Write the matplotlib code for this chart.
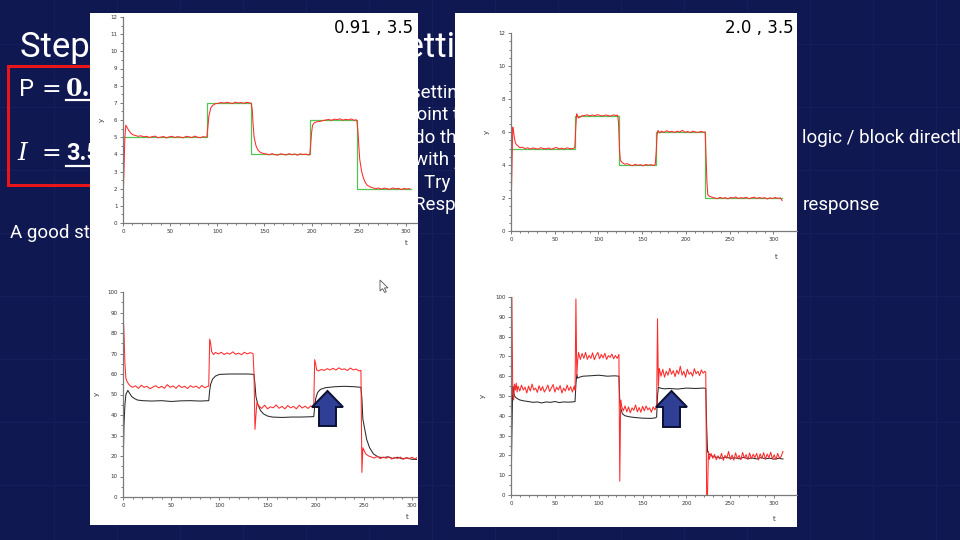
import matplotlib

matplotlib.use("Agg")

import matplotlib.pyplot as plt
import numpy as np
from matplotlib.patches import Polygon, Rectangle

# ---- data -------------------------------------------------------------------
# top left: P=0.91, I=3.5 (process value vs set point)
tl_sp_t = [0, 89, 136, 198, 248, 305]
tl_sp_y = [5, 7, 4, 6, 2, 2]
tl_pv = [
    (0, 1.2), (1, 3.0), (2, 5.0), (3, 5.7), (4, 5.6), (6, 5.4), (8, 5.25), (10, 5.15), (13, 5.1),
    (16, 5.05), (19, 5.08), (22, 5.02), (25, 5.05), (28, 4.98), (31, 5.03), (34, 5.06), (37, 4.97),
    (40, 5.0), (43, 5.04), (46, 4.95), (49, 5.02), (52, 5.05), (55, 4.98), (58, 5.03), (61, 5.0),
    (64, 4.96), (67, 5.05), (70, 5.02), (73, 4.98), (76, 5.06), (79, 5.0), (82, 4.97), (85, 5.03),
    (88, 5.0), (89, 5.05), (90, 5.6), (91, 6.2), (93, 6.7), (95, 6.85), (98, 6.95), (101, 6.97),
    (104, 7.02), (107, 6.98), (110, 7.03), (113, 7.0), (116, 6.96), (119, 7.04), (122, 6.99),
    (125, 7.02), (128, 6.97), (131, 7.03), (134, 7.0), (136, 6.98), (137, 6.6), (138, 5.7),
    (139, 5.0), (141, 4.5), (143, 4.25), (146, 4.1), (149, 4.05), (152, 4.02), (155, 3.97),
    (158, 4.04), (161, 3.98), (164, 3.95), (167, 4.03), (170, 4.0), (173, 3.96), (176, 4.04),
    (179, 3.98), (182, 4.02), (185, 3.95), (188, 4.03), (191, 3.99), (194, 4.01), (197, 3.96),
    (198, 3.98), (199, 4.6), (200, 5.3), (201, 5.7), (203, 5.85), (206, 5.9), (209, 5.92),
    (212, 5.97), (215, 6.0), (218, 6.03), (221, 5.98), (224, 6.05), (227, 6.02), (230, 6.07),
    (233, 5.99), (236, 6.04), (239, 6.01), (242, 6.06), (245, 5.98), (247, 6.02), (248, 5.95),
    (249, 5.4), (250, 4.5), (251, 3.7), (253, 3.0), (255, 2.6), (257, 2.35), (259, 2.2),
    (262, 2.1), (265, 2.05), (268, 2.0), (271, 2.04), (274, 1.97), (277, 2.03), (280, 2.0),
    (283, 1.96), (286, 2.04), (289, 1.99), (292, 2.02), (295, 1.95), (298, 2.01), (301, 1.98),
    (304, 2.0),
]

# top right: P=2.0, I=3.5
tr_sp_t = [0, 73, 123, 166, 222, 310]
tr_sp_y = [5, 7, 4, 6, 2, 2]
tr_pv = [
    (0, 1.2), (1, 3.5), (2, 6.3), (3, 6.0), (4, 5.6), (5, 5.35), (6, 5.25), (8, 5.15), (10, 5.05),
    (13, 5.08), (16, 5.0), (19, 5.04), (22, 4.97), (25, 5.03), (28, 5.0), (31, 4.96), (34, 5.05),
    (37, 5.0), (40, 4.98), (43, 5.03), (46, 4.95), (49, 5.02), (52, 5.06), (55, 4.98), (58, 5.02),
    (61, 4.97), (64, 5.04), (67, 5.0), (70, 4.98), (72, 5.02), (73, 5.1), (74, 6.2), (75, 7.1),
    (76, 7.0), (77, 6.85), (79, 6.9), (81, 6.98), (84, 7.0), (87, 7.04), (90, 6.98), (93, 7.03),
    (96, 6.99), (99, 7.05), (102, 7.0), (105, 6.97), (108, 7.03), (111, 7.0), (114, 6.96),
    (117, 7.04), (120, 7.0), (122, 7.02), (123, 6.5), (124, 5.0), (125, 4.3), (127, 4.15),
    (130, 4.05), (133, 4.08), (136, 4.0), (139, 3.96), (142, 4.04), (145, 3.98), (148, 4.02),
    (151, 3.95), (154, 4.03), (157, 3.99), (160, 4.02), (163, 3.97), (165, 4.05), (166, 4.8),
    (167, 5.8), (168, 6.1), (170, 5.95), (172, 6.05), (175, 5.98), (178, 6.08), (181, 6.0),
    (184, 6.04), (187, 5.97), (190, 6.05), (193, 6.0), (196, 6.1), (199, 5.98), (202, 6.03),
    (205, 5.96), (208, 6.05), (211, 6.0), (214, 5.97), (217, 6.04), (220, 5.99), (222, 6.0),
    (223, 4.5), (224, 3.0), (225, 2.2), (227, 2.1), (230, 2.05), (233, 2.0), (236, 1.96),
    (239, 2.04), (242, 1.98), (245, 2.02), (248, 1.95), (251, 2.03), (254, 2.0), (257, 2.06),
    (260, 1.97), (263, 2.02), (266, 1.99), (269, 2.04), (272, 1.96), (275, 2.01), (278, 2.05),
    (281, 1.97), (284, 2.03), (287, 1.98), (290, 2.02), (293, 1.94), (296, 2.01), (299, 1.97),
    (302, 2.03), (305, 1.98), (308, 2.0), (310, 1.85),
]

# bottom left: controller output (red) and scaled process value (black), P=0.91
bl_out = [
    (0, 92), (1, 80), (2, 65), (3, 58), (4, 56.5), (6, 55), (8, 54), (10, 53.5), (13, 54.2),
    (16, 53), (19, 54.5), (22, 53.5), (25, 54), (28, 52.8), (31, 53.6), (34, 54.3), (37, 53.2),
    (40, 54), (43, 53), (46, 54.8), (49, 53.5), (52, 54.2), (55, 53), (58, 54.5), (61, 53.4),
    (64, 54), (67, 52.9), (70, 54.3), (73, 53.5), (76, 54.1), (79, 53), (82, 54.4), (85, 53.3),
    (88, 54), (89, 54), (90, 77), (91, 75), (92, 71), (94, 69.5), (96, 70.5), (99, 69.8),
    (102, 70.6), (105, 69.5), (108, 70.3), (111, 69.7), (114, 70.8), (117, 69.6), (120, 70.2),
    (123, 69.4), (126, 70.6), (129, 69.8), (132, 70.4), (135, 70), (136, 60), (137, 33),
    (138, 40), (139, 46), (141, 44.5), (144, 43.2), (147, 44.8), (150, 43), (153, 44),
    (156, 43.5), (159, 44.9), (162, 43.3), (165, 44.2), (168, 43), (171, 44.6), (174, 43.5),
    (177, 44.2), (180, 43), (183, 44.8), (186, 43.4), (189, 44.3), (192, 43.2), (195, 44.5),
    (197, 43.5), (198, 44), (199, 67), (200, 65), (201, 62), (203, 61.5), (206, 62.2),
    (209, 61.8), (212, 62.6), (215, 62), (218, 62.8), (221, 61.9), (224, 63), (227, 62.2),
    (230, 62.5), (233, 61.7), (236, 62.9), (239, 62), (242, 62.4), (245, 61.5), (247, 61.8),
    (248, 12), (249, 24), (250, 23), (252, 21), (255, 20), (258, 19.5), (261, 19), (264, 19.8),
    (267, 18.7), (270, 19.5), (273, 18.9), (276, 19.6), (279, 18.5), (282, 19.3), (285, 18.8),
    (288, 19.5), (291, 18.4), (294, 19.2), (297, 18.6), (300, 19.4), (303, 18.5), (305, 19.2),
]
bl_pv = [
    (0, 11), (1, 35), (2, 45), (3, 50), (5, 52), (7, 50.5), (9, 49), (12, 48), (15, 47.3),
    (20, 47), (30, 46.8), (40, 47), (50, 46.6), (60, 46.9), (70, 47), (80, 46.8), (89, 47),
    (90, 52), (91, 55), (93, 57.5), (96, 59), (100, 59.8), (110, 60), (120, 60), (130, 60),
    (136, 59.8), (137, 55), (138, 49), (140, 45), (143, 42), (146, 40.5), (150, 39.5),
    (155, 39), (165, 38.8), (175, 39), (185, 39), (198, 39.2), (199, 44), (200, 48), (202, 51),
    (205, 52.5), (210, 53.3), (220, 53.8), (230, 54), (240, 53.8), (247, 53.5), (248, 48),
    (249, 38), (251, 33), (253, 28), (256, 24), (260, 21), (265, 19.5), (270, 19.2), (275, 19.6),
    (280, 18.8), (285, 19.4), (290, 18.6), (295, 19.1), (300, 18.4), (305, 18.3),
]

# bottom right: P=2.0
br_out = [
    (0, 100), (1, 100), (2, 52), (3, 48), (4, 56), (5, 53), (6, 56.5), (7, 52), (8, 55),
    (10, 52.5), (12, 55.5), (14, 53), (16, 54.5), (18, 51.5), (20, 55), (22, 52.5), (24, 56),
    (26, 53), (28, 54), (30, 51.8), (32, 55.2), (34, 52.7), (36, 54.8), (38, 52), (40, 53.5),
    (42, 55.5), (44, 52.3), (46, 54), (48, 55.8), (50, 52), (52, 54.5), (54, 53), (56, 55.3),
    (58, 51.5), (60, 54), (62, 52.5), (64, 55.5), (66, 52.8), (68, 54.7), (70, 52), (72, 55),
    (73, 53), (74, 99), (75, 60), (76, 68), (77, 72), (79, 68.5), (81, 71.5), (83, 69),
    (85, 72), (87, 68.5), (89, 70.5), (91, 69), (93, 71.8), (95, 68.3), (97, 70.6), (99, 72),
    (101, 68.8), (103, 71), (105, 69.2), (107, 71.6), (109, 68.5), (111, 70.4), (113, 69.5),
    (115, 71.2), (117, 68.8), (119, 70.5), (121, 69), (123, 71), (124, 7), (125, 48), (126, 45),
    (128, 42.5), (130, 45), (132, 42), (134, 44.5), (136, 41.5), (138, 44), (140, 42.8),
    (142, 45.5), (144, 42), (146, 44.2), (148, 41.8), (150, 44.8), (152, 42.5), (154, 45),
    (156, 43), (158, 44), (160, 41.8), (162, 44.5), (164, 43), (166, 45), (167, 89), (168, 55),
    (169, 64), (171, 60), (173, 63.5), (175, 59.5), (177, 62.5), (179, 60.5), (181, 64),
    (183, 61), (185, 62.8), (187, 59.8), (189, 63), (191, 61), (193, 65), (195, 60.5),
    (197, 62.5), (199, 59.5), (201, 63.5), (203, 61), (205, 62), (207, 60), (209, 63.8),
    (211, 61.2), (213, 62.5), (215, 60.3), (217, 63.2), (219, 61.5), (221, 62.5), (222, 62),
    (223, 0), (224, 0), (225, 22), (226, 18), (228, 21), (230, 18.5), (232, 20.5), (234, 17.8),
    (236, 19.8), (238, 18.2), (240, 21), (242, 17.5), (244, 20), (246, 18.5), (248, 22),
    (250, 18), (252, 20.2), (254, 17.6), (256, 21.3), (258, 18.4), (260, 20), (262, 17.8),
    (264, 21.5), (266, 18.6), (268, 20.4), (270, 17.9), (272, 21.2), (274, 18.3), (276, 20.6),
    (278, 18.9), (280, 21), (282, 17.7), (284, 20.8), (286, 18.5), (288, 21.4), (290, 18.1),
    (292, 20.7), (294, 18.8), (296, 21.6), (298, 18.2), (300, 20.3), (302, 17.9), (304, 21),
    (306, 18.5), (308, 19.5), (310, 22),
]
br_pv = [
    (0, 2), (1, 30), (2, 55), (3, 52), (4, 50), (6, 49), (8, 48.5), (10, 48), (15, 47.5),
    (20, 47.2), (25, 46.8), (30, 47), (35, 46.5), (40, 47), (45, 46.8), (50, 47.2), (55, 46.7),
    (60, 47), (65, 46.9), (70, 47), (73, 47.2), (74, 56), (75, 61), (76, 59), (78, 59.5),
    (82, 60), (90, 60.2), (100, 60.5), (110, 60), (118, 60.2), (123, 60), (124, 47), (125, 44),
    (127, 41), (130, 40), (135, 39.5), (140, 39.2), (150, 38.8), (160, 38.7), (165, 39),
    (166, 39.5), (167, 50), (168, 54.5), (170, 54), (175, 53.6), (180, 53.8), (190, 53.5),
    (200, 54), (210, 53.8), (220, 54), (222, 53.8), (223, 35), (224, 22), (226, 20.5),
    (230, 19.5), (235, 19), (240, 18.6), (245, 19.2), (250, 18.5), (255, 18.8), (260, 18.3),
    (265, 19), (270, 18.4), (275, 18.7), (280, 18.2), (285, 18.9), (290, 18.3), (295, 18.6),
    (300, 18.1), (305, 18.5), (310, 18.2),
]

panel_labels = ["0.91 , 3.5", "2.0 , 3.5"]

BG = "#101851"
RED = "#ff2b2b"
GREEN = "#55c455"
SLIDE_FONT = ["Roboto", "DejaVu Sans"]

fig = plt.figure(figsize=(9.6, 5.4), dpi=100, facecolor=BG)

# full-figure axes in pixel coordinates for the slide itself
bg = fig.add_axes([0, 0, 1, 1])
bg.set_xlim(0, 960)
bg.set_ylim(540, 0)
bg.axis("off")
bg.set_facecolor(BG)

# faint background grid of the slide template
for gx in np.arange(54, 960, 63):
    bg.axvline(gx, color="#151f5c", lw=0.7, zorder=1)
for gy in np.arange(44, 540, 63):
    bg.axhline(gy, color="#151f5c", lw=0.7, zorder=1)

# slide text (mostly covered by the screenshots)
bg.text(20, 57, "Step Response", color="white", fontsize=25, family=SLIDE_FONT, va="baseline", zorder=2)
bg.text(386, 57, "Setting", color="white", fontsize=25, family=SLIDE_FONT, va="baseline", zorder=2)

bg.add_patch(Rectangle((8, 66), 220, 119, fill=False, edgecolor="#e8161b", lw=2.2, zorder=2))
bg.text(19, 96, "P", color="white", fontsize=17, family=SLIDE_FONT, va="baseline", zorder=2)
bg.text(41, 96, "=", color="white", fontsize=17, family="DejaVu Serif", va="baseline", zorder=2)
bg.text(66, 96, "0.91", color="white", fontsize=17, family="DejaVu Serif", weight="bold", va="baseline", zorder=2)
bg.plot([66, 140], [100, 100], color="white", lw=1.6, zorder=2)
bg.text(17, 160, "I", color="white", fontsize=18, family="DejaVu Serif", style="italic", va="baseline", zorder=2)
bg.text(42, 160, "=", color="white", fontsize=17, family="DejaVu Serif", va="baseline", zorder=2)
bg.text(66, 160, "3.5", color="white", fontsize=17, family=SLIDE_FONT, weight="bold", va="baseline", zorder=2)
bg.plot([66, 140], [166, 166], color="white", lw=1.6, zorder=2)

body = [
    (411, 98, "setting of the controller"),
    (406, 120, "point to a new value"),
    (414, 143, "do the same with the"),
    (802, 143, "logic / block directly"),
    (414, 165, "with your own values"),
    (424, 188, "Try   out"),
    (414, 210, "Response of the"),
    (803, 210, "response"),
]
for bx, by, line in body:
    bg.text(bx, by, line, color="white", fontsize=13.5, family=SLIDE_FONT, va="baseline", zorder=2)
bg.text(10, 238, "A good starting point is", color="white", fontsize=13.5, family=SLIDE_FONT,
        va="baseline", zorder=2)

# the two pasted screenshots
bg.add_patch(Rectangle((90, 13), 328, 512, facecolor="white", edgecolor="none", zorder=5))
bg.add_patch(Rectangle((455, 13), 342, 514, facecolor="white", edgecolor="none", zorder=5))
bg.text(413, 28, panel_labels[0], fontsize=12, ha="right", va="center", color="black", zorder=6)
bg.text(794, 28, panel_labels[1], fontsize=12, ha="right", va="center", color="black", zorder=6)

for lx, ly in [(406, 243), (776, 257), (407, 517), (774, 519)]:
    bg.text(lx, ly, "t", fontsize=5, ha="center", va="center", color="#333", zorder=6)
for lx, ly in [(102, 120), (487, 132), (97, 394), (483, 396)]:
    bg.text(lx, ly, "y", fontsize=5, ha="center", va="center", rotation=90, color="#333", zorder=6)


def make_axes(left, right, top, bottom, xmax, ymax, ymajor, yminor):
    ax = fig.add_axes([left / 960, 1 - bottom / 540, (right - left) / 960, (bottom - top) / 540])
    ax.set_facecolor("none")
    ax.set_xlim(0, xmax)
    ax.set_ylim(0, ymax)
    for side in ("top", "right"):
        ax.spines[side].set_visible(False)
    for side in ("left", "bottom"):
        ax.spines[side].set_color("#7a7a7a")
        ax.spines[side].set_linewidth(0.9)
    ax.set_xticks(np.arange(0, 301, 50))
    ax.set_xticks(np.arange(0, 301, 10), minor=True)
    ax.set_yticks(np.arange(0, ymax + 0.01, ymajor))
    ax.set_yticks(np.arange(0, ymax + 0.01, yminor), minor=True)
    ax.tick_params(which="both", direction="out", colors="#666", labelcolor="#333",
                   labelsize=4, width=0.6, pad=1.5)
    ax.tick_params(which="major", length=2.5)
    ax.tick_params(which="minor", length=1.5)
    return ax


def draw(ax, pairs, color):
    arr = np.array(pairs, dtype=float)
    ax.plot(arr[:, 0], arr[:, 1], color=color, lw=0.75)


ax_tl = make_axes(123, 417, 17, 223, 311.7, 12, 1, 0.5)
ax_tl.step(tl_sp_t, tl_sp_y, where="post", color=GREEN, lw=0.9)
draw(ax_tl, tl_pv, RED)

ax_tr = make_axes(511, 797, 33, 231, 327, 12, 2, 0.5)
ax_tr.step(tr_sp_t, tr_sp_y, where="post", color=GREEN, lw=0.9)
draw(ax_tr, tr_pv, RED)

ax_bl = make_axes(123, 417, 292, 497, 305.2, 100, 10, 5)
draw(ax_bl, bl_pv, "#2a2a2a")
draw(ax_bl, bl_out, RED)

ax_br = make_axes(511, 797, 297, 495, 326, 100, 10, 5)
draw(ax_br, br_pv, "#2a2a2a")
draw(ax_br, br_out, RED)

# overlay: blue arrows and mouse cursor, on top of everything
ov = fig.add_axes([0, 0, 1, 1])
ov.set_xlim(0, 960)
ov.set_ylim(540, 0)
ov.axis("off")
ov.set_facecolor("none")
for cx, top_y, bot_y in [(327.5, 391, 426), (671.5, 391, 427)]:
    shape = [(cx, top_y), (cx + 15.5, top_y + 16), (cx + 8.5, top_y + 16), (cx + 8.5, bot_y),
             (cx - 8.5, bot_y), (cx - 8.5, top_y + 16), (cx - 15.5, top_y + 16)]
    ov.add_patch(Polygon(shape, closed=True, facecolor="#2f3f96", edgecolor="#0b1034", lw=1.4))
cursor = [(380, 280), (380, 291), (382.6, 288.6), (384.6, 292.5), (386.3, 291.7), (384.4, 287.9), (388, 287.9)]
ov.add_patch(Polygon(cursor, closed=True, facecolor="white", edgecolor="#555", lw=0.6))

fig.savefig("out.png", dpi=100, facecolor=BG)
